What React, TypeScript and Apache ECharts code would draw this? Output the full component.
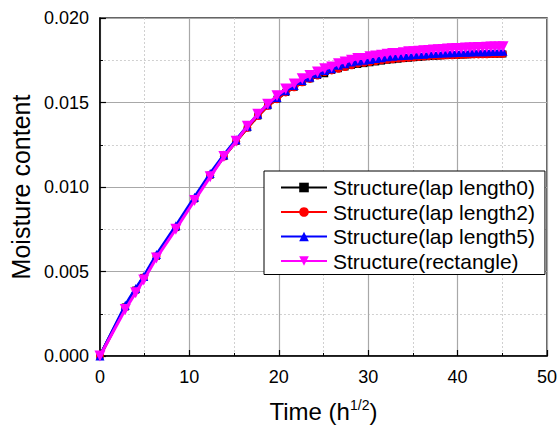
import React, { useEffect, useRef } from "react";
import * as echarts from "echarts";

const timeX = [0, 2.83, 4.0, 4.9, 6.32, 8.49, 10.58, 12.33, 13.86, 15.23, 16.49, 17.66, 18.76, 19.8, 20.78, 21.73, 22.63, 23.49, 24.33, 25.14, 25.92, 26.68, 27.42, 28.14, 28.84, 29.53, 30.2, 30.85, 31.5, 32.12, 32.74, 33.35, 33.94, 34.53, 35.1, 35.67, 36.22, 36.77, 37.31, 37.84, 38.37, 38.88, 39.4, 39.9, 40.4, 40.89, 41.38, 41.86, 42.33, 42.8, 43.27, 43.73, 44.18, 44.63, 45.08];

const lap0 = [0, 0.0029, 0.0039, 0.00465, 0.0059, 0.0076, 0.0093, 0.0107, 0.0118, 0.0127, 0.0135, 0.0142, 0.0148, 0.0152, 0.0156, 0.0159, 0.0162, 0.0164, 0.0166, 0.0167, 0.0169, 0.017, 0.0171, 0.0172, 0.01725, 0.0173, 0.01735, 0.0174, 0.01745, 0.0175, 0.01753, 0.01756, 0.0176, 0.01762, 0.01765, 0.01767, 0.0177, 0.01772, 0.01774, 0.01775, 0.01777, 0.01778, 0.0178, 0.0178, 0.01781, 0.01782, 0.01783, 0.01784, 0.01784, 0.01785, 0.01785, 0.01786, 0.01786, 0.01787, 0.01787];

const lap2 = [0, 0.0029, 0.0039, 0.00465, 0.0059, 0.0076, 0.0093, 0.0107, 0.0118, 0.0127, 0.0135, 0.0142, 0.0148, 0.0152, 0.0156, 0.0159, 0.0162, 0.0164, 0.0166, 0.0168, 0.0169, 0.017, 0.0171, 0.0172, 0.0173, 0.01735, 0.0174, 0.01745, 0.0175, 0.01753, 0.01756, 0.0176, 0.01762, 0.01765, 0.01767, 0.0177, 0.01772, 0.01774, 0.01776, 0.01777, 0.01778, 0.0178, 0.0178, 0.01781, 0.01782, 0.01783, 0.01784, 0.01785, 0.01785, 0.01786, 0.01786, 0.01787, 0.01787, 0.01788, 0.01788];

const lap5 = [0, 0.003, 0.004, 0.0047, 0.006, 0.0077, 0.0094, 0.0108, 0.0119, 0.0128, 0.0136, 0.0143, 0.0149, 0.0153, 0.0157, 0.016, 0.0163, 0.0165, 0.0167, 0.0169, 0.017, 0.0172, 0.0173, 0.0174, 0.01745, 0.0175, 0.01755, 0.0176, 0.01765, 0.0177, 0.01773, 0.01776, 0.01778, 0.0178, 0.01782, 0.01784, 0.01786, 0.01788, 0.0179, 0.01791, 0.01793, 0.01794, 0.01795, 0.01796, 0.01797, 0.01798, 0.01799, 0.018, 0.018, 0.01801, 0.01801, 0.01802, 0.01802, 0.01803, 0.01803];

const rect = [0, 0.00275, 0.00375, 0.0045, 0.0058, 0.0075, 0.0092, 0.0106, 0.0118, 0.0127, 0.0136, 0.0143, 0.0149, 0.0154, 0.0158, 0.0161, 0.0164, 0.0166, 0.0168, 0.017, 0.0171, 0.0173, 0.0174, 0.0175, 0.0176, 0.0176, 0.0177, 0.01775, 0.0178, 0.01785, 0.0179, 0.0179, 0.01795, 0.018, 0.018, 0.01803, 0.01806, 0.01808, 0.0181, 0.01812, 0.01814, 0.01816, 0.01818, 0.0182, 0.0182, 0.01822, 0.01823, 0.01824, 0.01825, 0.01826, 0.01827, 0.01828, 0.01828, 0.01829, 0.0183];

const seriesNames = ["Structure(lap length0)", "Structure(lap length2)", "Structure(lap length5)", "Structure(rectangle)"];
const seriesColors = ["#000000", "#ff0000", "#0000ff", "#ff00ff"];
const seriesValues = [lap0, lap2, lap5, rect];
const seriesSymbols = ["rect", "circle", "triangle", "triangle"];
const symbolSizes = [7, 8, 9, 11];
const symbolRotates = [0, 0, 0, 180];

const FONT = "'Liberation Sans', Arial, sans-serif";

export default function App() {
  const ref = useRef<HTMLDivElement>(null);
  useEffect(() => {
    if (!ref.current) return;
    const chart = echarts.init(ref.current, null, { renderer: "svg" });
    const series = seriesNames.map((name, i) => ({
      name,
      type: "line",
      data: timeX.map((x, j) => [x, seriesValues[i][j]]),
      symbol: seriesSymbols[i],
      symbolSize: symbolSizes[i],
      symbolRotate: symbolRotates[i],
      showAllSymbol: true,
      lineStyle: { color: seriesColors[i], width: 3 },
      itemStyle: { color: seriesColors[i] },
      z: 2 + i,
    }));
    chart.setOption({
      animation: false,
      backgroundColor: "#ffffff",
      textStyle: { fontFamily: FONT },
      grid: {
        left: 93,
        top: 18,
        right: 9,
        bottom: 71,
        show: true,
        borderColor: "#333333",
        borderWidth: 1.5,
        backgroundColor: "transparent",
      },
      legend: {
        orient: "vertical",
        left: 264,
        top: 171,
        backgroundColor: "#ffffff",
        borderColor: "#000000",
        borderWidth: 1,
        borderRadius: 0,
        padding: [6, 10, 3, 16],
        itemWidth: 46,
        itemHeight: 12,
        itemGap: 3.5,
        textStyle: { fontSize: 21, color: "#000000", fontFamily: FONT, padding: [0, 0, 0, 1] },
        data: seriesNames,
      },
      xAxis: {
        type: "value",
        min: 0,
        max: 50,
        interval: 10,
        name: "{n|Time (h}{s|1/2}{n|)}",
        nameLocation: "middle",
        nameGap: 42,
        nameTextStyle: {
          rich: {
            n: { fontSize: 24, fontFamily: FONT, color: "#000" },
            s: { fontSize: 14, fontFamily: FONT, color: "#000", verticalAlign: "top", padding: [0, 0, 12, 0] },
          },
        },
        axisLine: { show: true, onZero: false, lineStyle: { color: "#000", width: 1.5 } },
        axisTick: { show: true, inside: true, length: 6, lineStyle: { color: "#000", width: 1.2 } },
        minorTick: { show: true, splitNumber: 2, length: 3, lineStyle: { color: "#000", width: 1 } },
        axisLabel: { fontSize: 18, color: "#000", margin: 12, fontFamily: FONT },
        splitLine: { show: true, lineStyle: { color: "#a8a8a8", width: 1.2 } },
        minorSplitLine: { show: true, lineStyle: { color: "#d0d0d0", width: 1, type: [2, 2] } },
      },
      yAxis: {
        type: "value",
        min: 0,
        max: 0.02,
        interval: 0.005,
        name: "Moisture content",
        nameLocation: "middle",
        nameGap: 60,
        nameTextStyle: { fontSize: 25, color: "#000", fontFamily: FONT },
        axisLine: { show: true, onZero: false, lineStyle: { color: "#000", width: 1.5 } },
        axisTick: { show: true, inside: true, length: 6, lineStyle: { color: "#000", width: 1.2 } },
        minorTick: { show: true, splitNumber: 2, length: 3, lineStyle: { color: "#000", width: 1 } },
        axisLabel: { fontSize: 18, color: "#000", margin: 11, fontFamily: FONT, formatter: (v: number) => v.toFixed(3) },
        splitLine: { show: true, lineStyle: { color: "#a8a8a8", width: 1.2 } },
        minorSplitLine: { show: true, lineStyle: { color: "#d0d0d0", width: 1, type: [2, 2] } },
      },
      series,
    });
    return () => chart.dispose();
  }, []);
  return <div ref={ref} style={{ position: "fixed", left: 0, top: 0, width: 560, height: 428 }} />;
}
